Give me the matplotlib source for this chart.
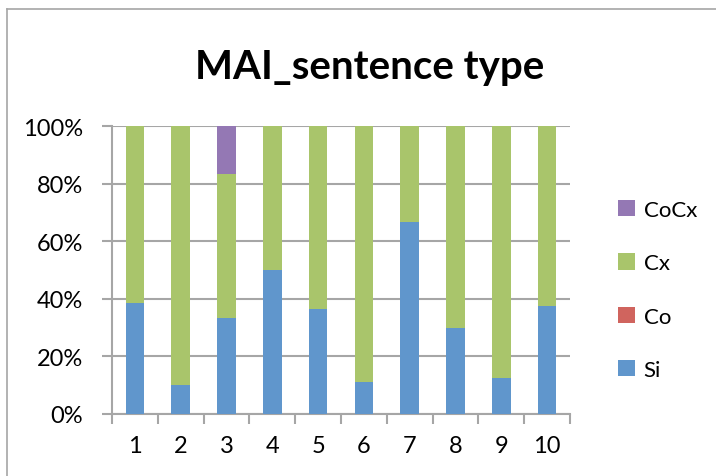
import numpy as np
import matplotlib
matplotlib.use('Agg')
import matplotlib.pyplot as plt
from matplotlib.lines import Line2D

plt.rcParams['font.family'] = ['Lato', 'DejaVu Sans']

# data (fractions per text)
texts = ['1', '2', '3', '4', '5', '6', '7', '8', '9', '10']
si = [38.5, 10.0, 33.3, 50.0, 36.4, 11.1, 66.7, 30.0, 12.5, 37.5]
co = [0, 0, 0, 0, 0, 0, 0, 0, 0, 0]
cocx = [0, 0, 16.7, 0, 0, 0, 0, 0, 0, 0]
cx = [100 - a - b - c for a, b, c in zip(si, co, cocx)]

c_si = '#6096cc'
c_co = '#d0645e'
c_cx = '#a9c56b'
c_cocx = '#9478b4'
grid_c = '#a6a6a6'

fig = plt.figure(figsize=(7.16, 4.77), dpi=100)
ax = fig.add_axes([112/716, 62/477, 458/716, 288/477])

x = np.arange(1, len(texts) + 1)
w = 0.41
b1 = np.array(si)
b2 = b1 + np.array(co)
b3 = b2 + np.array(cx)
h_si = ax.bar(x, si, w, color=c_si, zorder=3)
h_co = ax.bar(x, co, w, bottom=b1, color=c_co, zorder=3)
h_cx = ax.bar(x, cx, w, bottom=b2, color=c_cx, zorder=3)
h_cocx = ax.bar(x, cocx, w, bottom=b3, color=c_cocx, zorder=3)

ax.set_xlim(0.5, len(texts) + 0.5)
ax.set_ylim(0, 100)
ax.set_yticks(range(0, 101, 20))
ax.set_yticklabels(['%d%%' % v for v in range(0, 101, 20)])
ax.yaxis.grid(True, color=grid_c, linewidth=1.5, zorder=0)
ax.set_xticks(x)
ax.set_xticklabels(texts)
ax.set_xticks(np.arange(0.5, len(texts) + 1, 1), minor=True)
ax.tick_params(axis='x', which='major', length=0, pad=15, labelsize=17)
ax.tick_params(axis='x', which='minor', length=7, width=1.5, color=grid_c, direction='out')
ax.tick_params(axis='y', length=7, width=1.5, color=grid_c, direction='out', labelsize=17, pad=14)
for s in ['top', 'right']:
    ax.spines[s].set_visible(False)
for s in ['left', 'bottom']:
    ax.spines[s].set_color(grid_c)
    ax.spines[s].set_linewidth(1.5)

fig.text(370/716, 1 - 68/477, 'MAI_sentence type', ha='center', va='center',
         fontsize=29, fontweight='bold')

fig.legend([h_cocx, h_cx, h_co, h_si], ['CoCx', 'Cx', 'Co', 'Si'],
           loc='center left', bbox_to_anchor=(598/716, 1 - 291/477), frameon=False,
           fontsize=16, handlelength=0.75, handleheight=0.75, handletextpad=0.4,
           labelspacing=1.5)

fig.add_artist(Line2D([7/716, 7/716], [0, 1 - 10/477], color='#a6a6a6', linewidth=1.2))
fig.add_artist(Line2D([7/716, 1], [1 - 10/477, 1 - 10/477], color='#a6a6a6', linewidth=1.2))

fig.savefig('out.png', dpi=100)
